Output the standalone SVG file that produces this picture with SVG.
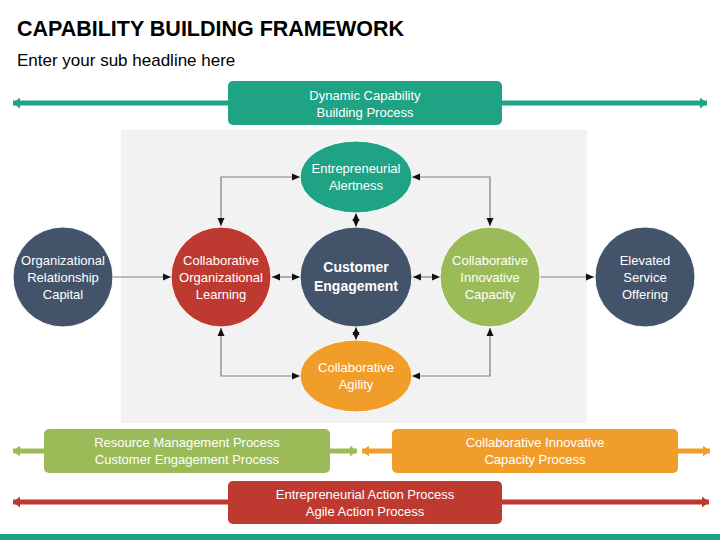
<svg xmlns="http://www.w3.org/2000/svg" width="720" height="540" viewBox="0 0 720 540">
<defs>
<style>
.t{font-family:"Liberation Sans",Arial,sans-serif;fill:#fff;font-size:13px;text-anchor:middle}
.b{font-weight:bold;font-size:14px}
.c{stroke:#7f7f7f;stroke-width:1.2;fill:none;marker-end:url(#ah)}
.d{marker-start:url(#ah)}
.n{stroke:#fff;stroke-width:1}
</style>
<marker id="ah" viewBox="0 0 8 8" refX="8" refY="4" markerWidth="8" markerHeight="8" markerUnits="userSpaceOnUse" orient="auto-start-reverse"><path d="M0,0.5 L8,4 L0,7.5 Z" fill="#111"/></marker>
<marker id="bt" viewBox="0 0 7 11" refX="7" refY="5.5" markerWidth="7" markerHeight="11" markerUnits="userSpaceOnUse" orient="auto-start-reverse"><path d="M0,0 L7,5.5 L0,11 Z" fill="#1fa385"/></marker>
<marker id="bg" viewBox="0 0 7 11" refX="7" refY="5.5" markerWidth="7" markerHeight="11" markerUnits="userSpaceOnUse" orient="auto-start-reverse"><path d="M0,0 L7,5.5 L0,11 Z" fill="#9bbb59"/></marker>
<marker id="bo" viewBox="0 0 7 11" refX="7" refY="5.5" markerWidth="7" markerHeight="11" markerUnits="userSpaceOnUse" orient="auto-start-reverse"><path d="M0,0 L7,5.5 L0,11 Z" fill="#f19d2a"/></marker>
<marker id="br" viewBox="0 0 7 11" refX="7" refY="5.5" markerWidth="7" markerHeight="11" markerUnits="userSpaceOnUse" orient="auto-start-reverse"><path d="M0,0 L7,5.5 L0,11 Z" fill="#be3a31"/></marker>
</defs>
<rect width="720" height="540" fill="#fff"/>
<text x="17" y="36" font-family="Liberation Sans,Arial,sans-serif" font-weight="bold" font-size="22" textLength="387" lengthAdjust="spacingAndGlyphs" fill="#000">CAPABILITY BUILDING FRAMEWORK</text>
<text x="17" y="66" font-family="Liberation Sans,Arial,sans-serif" font-size="17" fill="#000">Enter your sub headline here</text>
<rect x="121" y="130" width="466" height="293" fill="#f2f2f2"/>

<g id="bar-dynamic">
<line x1="13" y1="103" x2="707" y2="103" stroke="#1fa385" stroke-width="5" marker-start="url(#bt)" marker-end="url(#bt)"/>
<rect x="228" y="81" width="274" height="44" rx="5" fill="#1fa385"/>
<text class="t" x="365" y="100">Dynamic Capability</text>
<text class="t" x="365" y="117">Building Process</text>
</g>

<g id="connectors">
<line class="c" x1="113" y1="277" x2="171" y2="277"/>
<line class="c d" x1="272" y1="277" x2="300" y2="277"/>
<line class="c d" x1="413" y1="277" x2="440" y2="277"/>
<line class="c" x1="540" y1="277" x2="594" y2="277"/>
<line class="c d" x1="356" y1="213" x2="356" y2="227"/>
<line class="c d" x1="356" y1="327" x2="356" y2="340"/>
<path class="c d" d="M221,226 V177 H300"/>
<path class="c d" d="M221,328 V376 H300"/>
<path class="c d" d="M412,177 H490 V226"/>
<path class="c d" d="M412,376 H490 V328"/>
</g>

<g id="org-capital">
<circle class="n" cx="63" cy="277" r="50" fill="#435369"/>
<text class="t" x="63" y="265">Organizational</text>
<text class="t" x="63" y="282">Relationship</text>
<text class="t" x="63" y="299">Capital</text>
</g>
<g id="collab-learning">
<circle class="n" cx="221" cy="277" r="50" fill="#be3a31"/>
<text class="t" x="221" y="265">Collaborative</text>
<text class="t" x="221" y="282">Organizational</text>
<text class="t" x="221" y="299">Learning</text>
</g>
<g id="customer-engagement">
<ellipse class="n" cx="356" cy="277" rx="56" ry="50" fill="#435369"/>
<text class="t b" x="356" y="272">Customer</text>
<text class="t b" x="356" y="291">Engagement</text>
</g>
<g id="entrepreneurial-alertness">
<ellipse class="n" cx="356" cy="177" rx="56" ry="36" fill="#1fa385"/>
<text class="t" x="356" y="173">Entrepreneurial</text>
<text class="t" x="356" y="190">Alertness</text>
</g>
<g id="collab-agility">
<ellipse class="n" cx="356" cy="376" rx="56" ry="36" fill="#f19d2a"/>
<text class="t" x="356" y="372">Collaborative</text>
<text class="t" x="356" y="389">Agility</text>
</g>
<g id="collab-innovative">
<circle class="n" cx="490" cy="277" r="50" fill="#9bbb59"/>
<text class="t" x="490" y="265">Collaborative</text>
<text class="t" x="490" y="282">Innovative</text>
<text class="t" x="490" y="299">Capacity</text>
</g>
<g id="elevated-service">
<circle class="n" cx="645" cy="277" r="50" fill="#435369"/>
<text class="t" x="645" y="265">Elevated</text>
<text class="t" x="645" y="282">Service</text>
<text class="t" x="645" y="299">Offering</text>
</g>

<g id="bar-resource">
<line x1="13" y1="451" x2="357" y2="451" stroke="#9bbb59" stroke-width="5" marker-start="url(#bg)" marker-end="url(#bg)"/>
<rect x="44" y="429" width="286" height="44" rx="5" fill="#9bbb59"/>
<text class="t" x="187" y="447">Resource Management Process</text>
<text class="t" x="187" y="464">Customer Engagement Process</text>
</g>
<g id="bar-innovative">
<line x1="362" y1="451" x2="710" y2="451" stroke="#f19d2a" stroke-width="5" marker-start="url(#bo)" marker-end="url(#bo)"/>
<rect x="392" y="429" width="286" height="44" rx="5" fill="#f19d2a"/>
<text class="t" x="535" y="447">Collaborative Innovative</text>
<text class="t" x="535" y="464">Capacity Process</text>
</g>
<g id="bar-action">
<line x1="13" y1="502" x2="709" y2="502" stroke="#be3a31" stroke-width="5" marker-start="url(#br)" marker-end="url(#br)"/>
<rect x="228" y="481" width="274" height="43" rx="5" fill="#be3a31"/>
<text class="t" x="365" y="499">Entrepreneurial Action Process</text>
<text class="t" x="365" y="516">Agile Action Process</text>
</g>
<rect x="0" y="534" width="720" height="6" fill="#1fa385"/>
</svg>
